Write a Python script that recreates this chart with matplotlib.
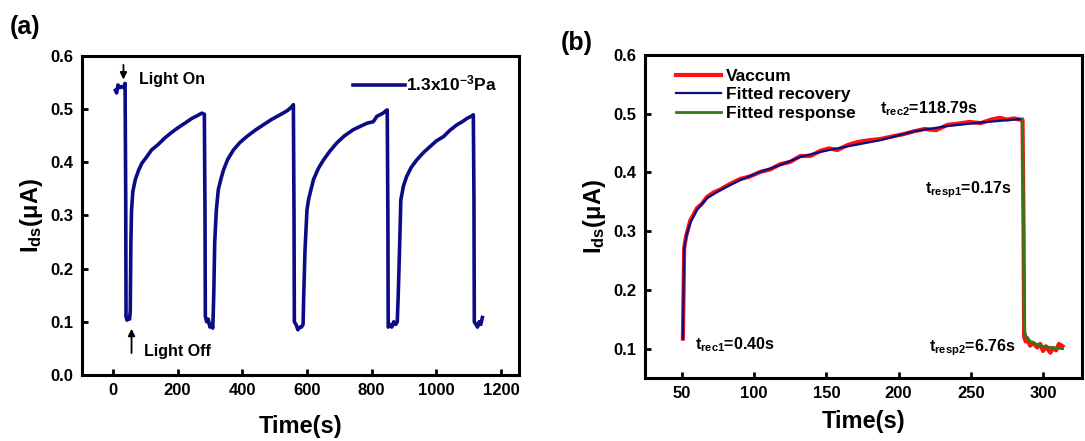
import matplotlib
matplotlib.use("Agg")
import matplotlib.pyplot as plt

plt.rcParams['font.family'] = ['Liberation Sans', 'DejaVu Sans']
plt.rcParams['font.weight'] = 'bold'
plt.rcParams['mathtext.fontset'] = 'custom'
plt.rcParams['mathtext.rm'] = 'Liberation Sans:bold'
plt.rcParams['mathtext.it'] = 'Liberation Sans:bold'
plt.rcParams['mathtext.bf'] = 'Liberation Sans:bold'

# ---- panel (a): on/off cycles at 1.3x10^-3 Pa ----
t_a = [8, 12, 16, 22, 28, 34, 38, 40, 41, 44, 48, 52, 54, 56, 58, 62, 70, 80, 90,
       105, 120, 140, 160, 180, 200, 220, 244, 260, 275, 283,
       285, 286, 290, 295, 300, 305, 309, 312, 315, 320, 326, 334, 342, 355, 373,
       393, 414, 440, 465, 490, 517, 540, 553, 558,
       560, 561, 566, 572, 578, 583, 588, 590, 594, 600, 605, 620, 635, 651, 670,
       692, 715, 743, 764, 785, 805, 816, 835, 845, 848,
       850, 851, 856, 862, 868, 874, 879, 882, 886, 890, 898, 908, 922, 939, 960,
       980, 1000, 1022, 1042, 1063, 1080, 1094, 1110, 1114,
       1116, 1117, 1122, 1127, 1132, 1137, 1142]
i_a = [0.535, 0.530, 0.545, 0.540, 0.542, 0.540, 0.548, 0.335, 0.110, 0.103, 0.108,
       0.105, 0.120, 0.250, 0.310, 0.345, 0.368, 0.385, 0.398,
       0.410, 0.423, 0.433, 0.445, 0.455, 0.464, 0.472, 0.482, 0.487, 0.492, 0.490,
       0.300, 0.110, 0.100, 0.105, 0.090, 0.095, 0.088, 0.150, 0.250, 0.310, 0.348,
       0.368, 0.385, 0.405, 0.423,
       0.437, 0.448, 0.460, 0.470, 0.480, 0.489, 0.497, 0.504, 0.508,
       0.300, 0.100, 0.095, 0.085, 0.090, 0.090, 0.095, 0.150, 0.235, 0.310, 0.330,
       0.367, 0.388, 0.404, 0.420,
       0.436, 0.449, 0.461, 0.467, 0.473, 0.476, 0.486, 0.492, 0.497, 0.498,
       0.300, 0.090, 0.095, 0.090, 0.100, 0.095, 0.100, 0.150, 0.235, 0.329, 0.355,
       0.373, 0.390, 0.404, 0.418,
       0.429, 0.440, 0.448, 0.460, 0.470, 0.476, 0.482, 0.487, 0.489,
       0.330, 0.100, 0.095, 0.090, 0.100, 0.095, 0.108]

# ---- panel (b): one cycle with fits ----
t_meas = [50.7, 51.2, 51.6, 53, 55.8, 58, 60.4, 64, 67.3, 72, 76.6, 83, 90.4, 97,
          104.3, 111, 118, 125, 132, 139, 146, 152, 157.5, 165, 172, 180, 187.5,
          195, 203, 210.6, 218, 226, 233.8, 241, 249, 256.9, 264, 270, 275, 280,
          285.8, 286.5, 286.9, 288, 289, 291, 293, 296, 298, 300, 302, 305, 307,
          309, 311, 313.5]
i_meas = [0.117, 0.200, 0.272, 0.292, 0.318, 0.328, 0.339, 0.347, 0.358, 0.366,
          0.371, 0.380, 0.389, 0.393, 0.401, 0.405, 0.414, 0.418, 0.428, 0.428,
          0.437, 0.441, 0.438, 0.447, 0.452, 0.455, 0.457, 0.461, 0.465, 0.470,
          0.474, 0.472, 0.481, 0.483, 0.486, 0.484, 0.490, 0.493, 0.490, 0.492,
          0.489, 0.300, 0.120, 0.112, 0.118, 0.105, 0.110, 0.102, 0.108, 0.096,
          0.104, 0.093, 0.101, 0.097, 0.108, 0.104]

t_rec = [50.7, 51.2, 51.6, 53, 55.8, 60.4, 67.3, 76.6, 90.4, 104.3, 118, 132,
         146, 157.5, 187.5, 210.6, 233.8, 256.9, 280, 285.8]
i_rec = [0.117, 0.210, 0.269, 0.291, 0.314, 0.336, 0.356, 0.370, 0.387, 0.401,
         0.4125, 0.4265, 0.435, 0.441, 0.455, 0.470, 0.479, 0.485, 0.490, 0.491]

t_resp = [285.8, 286.5, 286.9, 288, 289, 292, 296, 300, 305, 309, 313.5]
i_resp = [0.491, 0.300, 0.134, 0.122, 0.117, 0.111, 0.107, 0.104, 0.102, 0.101, 0.100]

navy = '#0b0b86'

fig = plt.figure(figsize=(10.85, 4.41), dpi=100)
ax1 = fig.add_axes([0.0753, 0.1497, 0.403, 0.724])
ax2 = fig.add_axes([0.5945, 0.1429, 0.4028, 0.7324])

for ax in (ax1, ax2):
    for s in ax.spines.values():
        s.set_linewidth(2.2)
    ax.tick_params(direction='in', length=4, width=2, labelsize=12, pad=6,
                   top=False, right=False)
    for lab in ax.get_xticklabels() + ax.get_yticklabels():
        lab.set_fontweight('bold')

ax1.plot(t_a, i_a, color=navy, lw=2.6, label='1.3x10$^{-3}$Pa')
ax1.set_xlim(-96, 1255)
ax1.set_ylim(0, 0.6)
ax1.set_xticks([0, 200, 400, 600, 800, 1000, 1200])
ax1.set_yticks([0.0, 0.1, 0.2, 0.3, 0.4, 0.5, 0.6])
ax1.set_yticklabels(['0.0', '0.1', '0.2', '0.3', '0.4', '0.5', '0.6'])
ax1.set_xlabel('Time(s)', fontsize=17, fontweight='bold', labelpad=12)
ax1.set_ylabel('I$_{ds}$(μA)', fontsize=17, fontweight='bold', labelpad=4)
ax1.legend(loc='upper right', bbox_to_anchor=(0.97, 0.97), frameon=False,
           fontsize=12.5, handlelength=3.0, handletextpad=0.05, borderpad=0)

ax1.annotate('', xy=(33, 0.550), xytext=(33, 0.588),
             arrowprops=dict(arrowstyle='-|>', color='black', lw=1.3,
                             mutation_scale=10))
ax1.text(80, 0.556, 'Light On', fontsize=11.5, fontweight='bold', va='center')
ax1.annotate('', xy=(58, 0.092), xytext=(58, 0.036),
             arrowprops=dict(arrowstyle='-|>', color='black', lw=1.3,
                             mutation_scale=10))
ax1.text(98, 0.044, 'Light Off', fontsize=11.5, fontweight='bold', va='center')

ax2.plot(t_meas, i_meas, color='#ff1010', lw=3.0, label='Vaccum')
ax2.plot(t_rec, i_rec, color=navy, lw=1.6, label='Fitted recovery')
ax2.plot(t_resp, i_resp, color='#2f7a1c', lw=2.0, label='Fitted response')
ax2.set_xlim(24.5, 327)
ax2.set_ylim(0.05, 0.6)
ax2.set_xticks([50, 100, 150, 200, 250, 300])
ax2.set_yticks([0.1, 0.2, 0.3, 0.4, 0.5, 0.6])
ax2.set_xlabel('Time(s)', fontsize=17, fontweight='bold', labelpad=6)
ax2.set_ylabel('I$_{ds}$(μA)', fontsize=17, fontweight='bold', labelpad=4)
ax2.legend(loc='upper left', bbox_to_anchor=(0.05, 0.985), frameon=False,
           fontsize=12.5, handlelength=2.6, handletextpad=0.3, borderpad=0,
           labelspacing=0.2)

ax2.text(59, 0.106, 't$_{rec1}$=0.40s', fontsize=11.5, va='center')
ax2.text(187, 0.508, 't$_{rec2}$=118.79s', fontsize=11.5, va='center')
ax2.text(218.5, 0.370, 't$_{resp1}$=0.17s', fontsize=11.5, va='center')
ax2.text(221, 0.102, 't$_{resp2}$=6.76s', fontsize=11.5, va='center')

fig.text(0.009, 0.965, '(a)', fontsize=18, fontweight='bold', va='top')
fig.text(0.517, 0.93, '(b)', fontsize=18, fontweight='bold', va='top')

fig.savefig('out.png', dpi=100)
